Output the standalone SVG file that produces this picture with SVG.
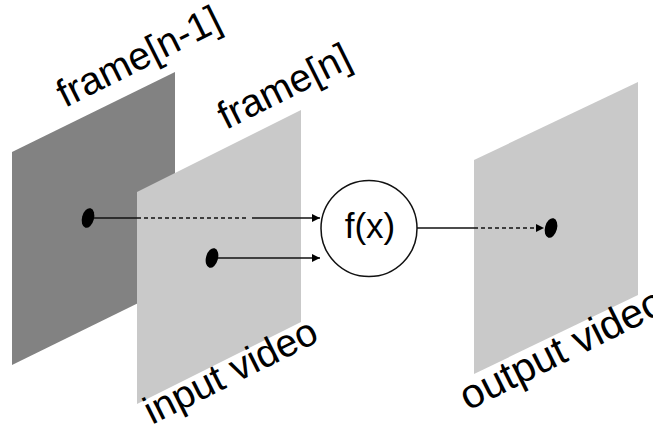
<svg xmlns="http://www.w3.org/2000/svg" width="653" height="430" viewBox="0 0 653 430">
<defs>
<marker id="ah" viewBox="0 0 10 10" refX="10" refY="5" markerWidth="8" markerHeight="8" markerUnits="userSpaceOnUse" orient="auto">
<path d="M0,0 L10,5 L0,10 z" fill="#000"/>
</marker>
</defs>
<style>
.lbl{font-family:"Liberation Sans",Arial,sans-serif;font-size:39px;fill:#000}
.ln{stroke:#111;stroke-width:1.5;fill:none}
.dash{stroke:#111;stroke-width:1.5;fill:none;stroke-dasharray:4 3}
.dot{fill:#000}
</style>
<rect width="653" height="430" fill="#fff"/>
<g id="frame-prev">
<polygon points="12,152 175,72 175,285 12,365" fill="#828282"/>
<text class="lbl" transform="translate(65,108) rotate(-26.57)">frame[n-1]</text>
</g>
<g id="frame-cur">
<polygon points="137,192 301,110 301,322 137,404" fill="#c9c9c9"/>
<text class="lbl" transform="translate(226,130) rotate(-26.57)">frame[n]</text>
<text class="lbl" transform="translate(152,425) rotate(-26.57)">input video</text>
</g>
<g id="fx">
<circle cx="369" cy="228.5" r="48" fill="#fff" stroke="#111" stroke-width="1.5"/>
<text class="lbl" x="370" y="238" text-anchor="middle" style="font-size:35px">f(x)</text>
</g>
<g id="frame-out">
<polygon points="474,160 638,82 638,295 474,374" fill="#c9c9c9"/>
<text class="lbl" transform="translate(468,411) rotate(-26.57)" style="font-size:41px">output video</text>
</g>
<g id="dots">
<ellipse class="dot" cx="88" cy="218" rx="6" ry="10" transform="rotate(15 88 218)"/>
<ellipse class="dot" cx="212" cy="258" rx="6" ry="10" transform="rotate(15 212 258)"/>
<ellipse class="dot" cx="551" cy="228" rx="6" ry="10" transform="rotate(15 551 228)"/>
</g>
<g id="connectors">
<line class="ln" x1="94" y1="218" x2="137" y2="218"/>
<line class="dash" x1="137" y1="218" x2="247" y2="218"/>
<line class="ln" x1="252" y1="218" x2="320" y2="218" marker-end="url(#ah)"/>
<line class="ln" x1="218" y1="258" x2="320" y2="258" marker-end="url(#ah)"/>
<line class="ln" x1="417" y1="228" x2="474" y2="228"/>
<line class="dash" x1="474" y1="228" x2="544" y2="228" marker-end="url(#ah)"/>
</g>
</svg>
